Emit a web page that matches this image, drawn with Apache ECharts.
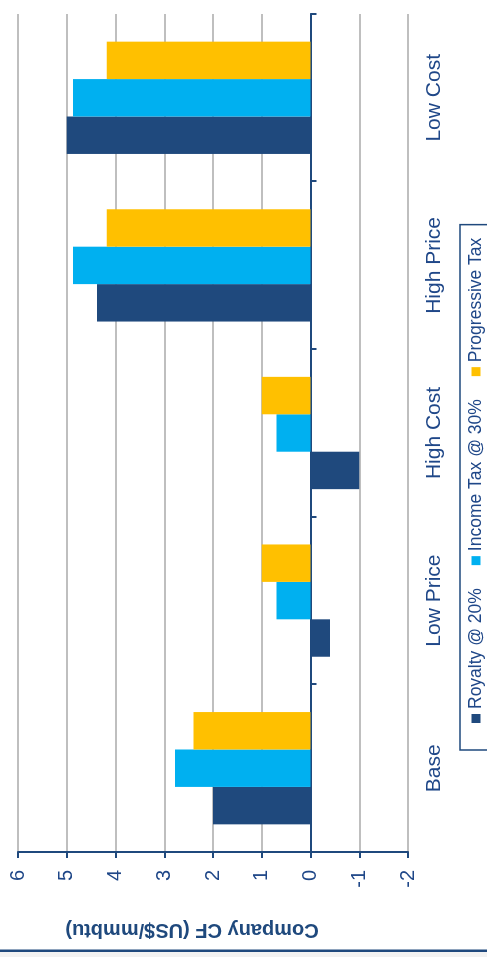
<!DOCTYPE html>
<html>
<head>
<meta charset="utf-8">
<script src="https://cdn.jsdelivr.net/npm/echarts@6/dist/echarts.min.js"></script>
<style>
  html, body { margin: 0; padding: 0; background: #fff; overflow: hidden; }
  #wrap { width: 487px; height: 957px; position: relative; overflow: hidden; }
  /* chart is laid out landscape, then turned so it reads like the source slide */
  #chart {
    position: absolute; left: 0; top: 0;
    width: 957px; height: 487px;
    transform-origin: 0 0;
    transform: translate(0, 957px) rotate(-90deg);
  }
</style>
</head>
<body>
<div id="wrap"><div id="chart"></div></div>
<script>
const categories = ['Base', 'Low Price', 'High Cost', 'High Price', 'Low Cost'];
const royalty = [2.0, -0.4, -1.0, 4.38, 5.0];
const incomeTax = [2.78, 0.7, 0.7, 4.87, 4.87];
const progressiveTax = [2.4, 1.0, 1.0, 4.18, 4.18];

const navy = '#1F497D';
const textBlue = '#1F4788';
const font = "'Liberation Sans', Arial, sans-serif";

const chart = echarts.init(document.getElementById('chart'), null, { renderer: 'canvas' });

chart.setOption({
    animation: false,
    backgroundColor: '#fff',
    grid: { left: 105, right: 14, top: 18, bottom: 79 },
    legend: {
        left: 207,
        top: 460,
        padding: [7, 13, 7, 27],
        borderColor: navy,
        borderWidth: 1.5,
        borderRadius: 0,
        itemWidth: 9,
        itemHeight: 9,
        itemGap: 23,
        icon: 'rect',
        textStyle: { fontFamily: font, fontSize: 17.5, color: textBlue },
        data: ['Royalty @ 20%', 'Income Tax @ 30%', 'Progressive Tax']
    },
    xAxis: [
        {
            type: 'category',
            data: categories,
            position: 'bottom',
            axisLine: { show: false, onZero: false },
            axisTick: { show: false },
            axisLabel: { margin: 16, fontFamily: font, fontSize: 21, color: textBlue },
            splitLine: { show: false }
        },
        {
            // zero line with the category ticks
            type: 'category',
            data: categories,
            position: 'bottom',
            axisLine: { show: true, onZero: true, lineStyle: { color: navy, width: 2 } },
            axisTick: { show: true, length: 6, lineStyle: { color: navy, width: 2 } },
            axisLabel: { show: false },
            splitLine: { show: false }
        }
    ],
    yAxis: {
        type: 'value',
        min: -2,
        max: 6,
        interval: 1,
        axisLine: { show: true, lineStyle: { color: navy, width: 2 } },
        axisTick: { show: true, length: 6, lineStyle: { color: navy, width: 2 } },
        axisLabel: { margin: 18, fontFamily: font, fontSize: 20, color: textBlue },
        splitLine: { show: true, lineStyle: { color: '#BFBFBF', width: 2 } }
    },
    graphic: [
        {
            type: 'rect',
            shape: { x: 0, y: 0, width: 5, height: 487 },
            style: { fill: '#F2F2F2' }
        },
        {
            type: 'rect',
            shape: { x: 5, y: 0, width: 2.5, height: 487 },
            style: { fill: navy }
        },
        {
            type: 'text',
            x: 27,
            y: 192,
            rotation: Math.PI / 2,
            style: {
                text: 'Company CF (US$/mmbtu)',
                font: 'bold 20px ' + font,
                fill: navy,
                align: 'center',
                verticalAlign: 'middle'
            }
        }
    ],
    series: [
        {
            name: 'Royalty @ 20%',
            type: 'bar',
            xAxisIndex: 0,
            data: royalty,
            barGap: '0%',
            barCategoryGap: '33%',
            itemStyle: { color: navy }
        },
        {
            name: 'Income Tax @ 30%',
            type: 'bar',
            xAxisIndex: 0,
            data: incomeTax,
            itemStyle: { color: '#00B0F0' }
        },
        {
            name: 'Progressive Tax',
            type: 'bar',
            xAxisIndex: 0,
            data: progressiveTax,
            itemStyle: { color: '#FFC000' }
        }
    ]
});
</script>
</body>
</html>
